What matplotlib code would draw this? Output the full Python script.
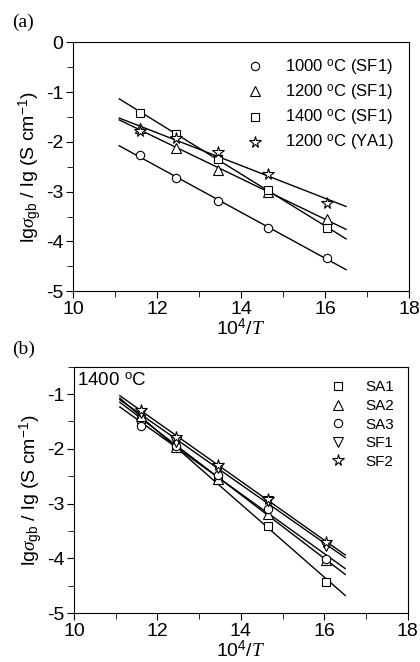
import matplotlib

matplotlib.use("Agg")
import matplotlib.pyplot as plt
import numpy as np
from matplotlib.ticker import MultipleLocator

plt.rcParams["font.family"] = ["Liberation Sans", "DejaVu Sans"]
plt.rcParams["axes.unicode_minus"] = False
plt.rcParams["mathtext.fontset"] = "custom"
plt.rcParams["mathtext.rm"] = "Liberation Sans"
plt.rcParams["mathtext.it"] = "Liberation Serif:italic"

# 10^4/T positions shared by all samples
x_pts = [11.6, 12.45, 13.45, 14.65, 16.05]

# (a) sintering temperature series
a_labels = ["1000 $^{\\rm o}$C (SF1)", "1200 $^{\\rm o}$C (SF1)",
            "1400 $^{\\rm o}$C (SF1)", "1200 $^{\\rm o}$C (YA1)"]
a_markers = ["o", "^", "s", "*"]
a_y = [
    [-2.27, -2.73, -3.18, -3.72, -4.34],
    [-1.72, -2.12, -2.57, -3.00, -3.55],
    [-1.41, -1.84, -2.34, -2.97, -3.73],
    [-1.78, -1.93, -2.20, -2.65, -3.22],
]

# (b) 1400 C series
b_labels = ["SA1", "SA2", "SA3", "SF1", "SF2"]
b_markers = ["s", "^", "o", "v", "*"]
b_y = [
    [-1.45, -1.99, -2.57, -3.41, -4.43],
    [-1.40, -1.97, -2.55, -3.19, -4.03],
    [-1.58, -1.95, -2.47, -3.10, -4.02],
    [-1.35, -1.87, -2.35, -2.96, -3.77],
    [-1.29, -1.78, -2.29, -2.92, -3.71],
]

fit_range = (11.1, 16.5)
ylabel = r"lg$\sigma_{\rm gb}$ / lg (S cm$^{-1}$)"
xlabel = r"10$^4$/$T$"
marker_size = {"*": 8.5, "^": 7.5, "v": 7.5, "o": 6, "s": 6}


def draw_panel(ax, ys, labels, markers, ylim, legend_fs):
    xf = np.linspace(*fit_range, 50)
    for y, lab, m in zip(ys, labels, markers):
        ax.plot(x_pts, y, linestyle="none", marker=m, markersize=marker_size[m],
                markerfacecolor="white", markeredgecolor="black",
                markeredgewidth=0.8, label=lab, zorder=3)
        k, b = np.polyfit(x_pts, y, 1)
        ax.plot(xf, k * xf + b, color="black", lw=1.0, zorder=2)
    ax.set_xlim(10, 18)
    ax.set_ylim(*ylim)
    ax.xaxis.set_major_locator(MultipleLocator(2))
    ax.xaxis.set_minor_locator(MultipleLocator(1))
    ax.yaxis.set_major_locator(MultipleLocator(1))
    ax.yaxis.set_minor_locator(MultipleLocator(0.5))
    ax.tick_params(which="both", direction="out", top=False, right=False,
                   labelsize=14, pad=2)
    ax.tick_params(which="major", length=5)
    ax.tick_params(which="minor", length=4)
    ax.set_xlabel(xlabel, fontsize=14, labelpad=0)
    ax.set_ylabel(ylabel, fontsize=14, labelpad=1)
    ax.legend(loc="upper right", frameon=False, fontsize=legend_fs,
              handletextpad=0.8, labelspacing=0.3, borderaxespad=0.5)


fig = plt.figure(figsize=(4.2, 6.62), dpi=100)
ax1 = fig.add_axes([0.174, 0.560, 0.800, 0.376])
ax2 = fig.add_axes([0.176, 0.074, 0.795, 0.372])

draw_panel(ax1, a_y, a_labels, a_markers, (-5, 0), 12)
draw_panel(ax2, b_y, b_labels, b_markers, (-5, -0.5), 11)

ax2.text(0.01, 0.975, "1400 $^{\\rm o}$C", transform=ax2.transAxes,
         fontsize=13.5, va="top", ha="left")

fig.text(0.028, 0.98, "(a)", family="Liberation Serif", fontsize=14, va="top")
fig.text(0.028, 0.485, "(b)", family="Liberation Serif", fontsize=14, va="top")

fig.savefig("out.png", dpi=100)
plt.close(fig)
